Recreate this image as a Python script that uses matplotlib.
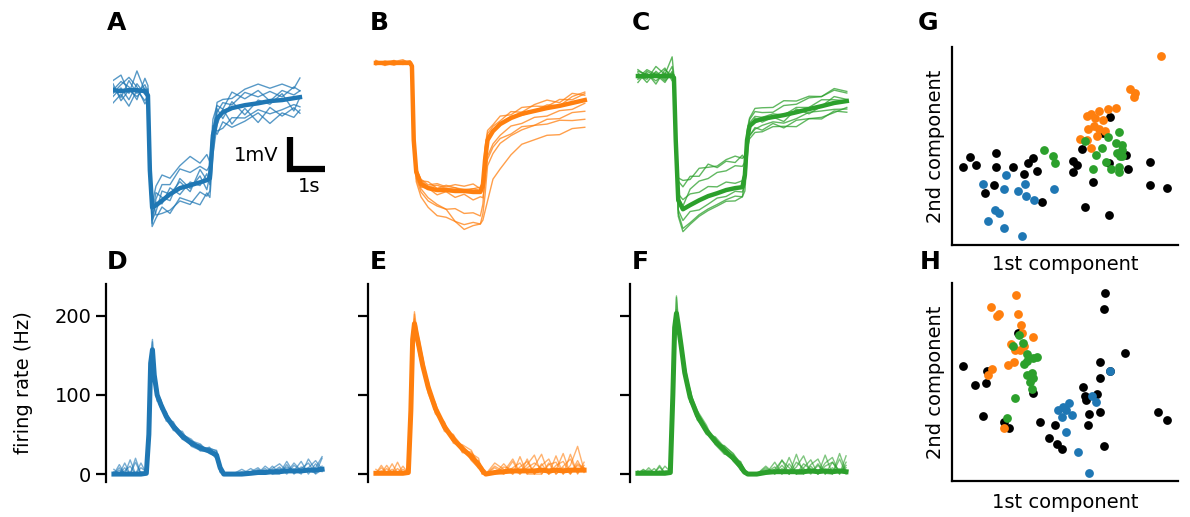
import numpy as np
import matplotlib
matplotlib.use('Agg')
import matplotlib.pyplot as plt

# Farben der drei Zellgruppen
c_blue, c_orange, c_green = '#1f77b4', '#ff7f0e', '#2ca02c'

# ---- membrane potential (mV relative to baseline), knot times in s ----
t_a = [0, 0.21, 0.42, 0.63, 0.84, 0.92, 0.97, 1.03, 1.13, 1.29, 1.5, 1.76, 2.03,
       2.29, 2.47, 2.55, 2.63, 2.74, 2.89, 3.13, 3.47, 3.82, 4.13, 4.45, 4.76, 4.92]
v_a_mean = [0, -0.03, 0, 0, -0.03, -0.16, -2.5, -3.66, -3.6, -3.45, -3.25, -3.06, -2.97,
            -2.88, -2.81, -2.75, -1.41, -0.88, -0.69, -0.56, -0.47, -0.41, -0.34, -0.31, -0.25, -0.22]
v_a_res = [
    [0.1, -0.2, 0.3, -0.1, 0.2, 0.1, -0.3, -0.5, 0.2, 0.5, 0.3, 0.6, 0.4, 0.5, 0.3, 0.4, -0.4, 0.2, 0.3, 0.1, 0.4, 0.2, 0.3, 0.1, 0.35, 0.2],
    [-0.2, 0.1, -0.3, 0.2, -0.1, -0.1, 0.3, 0.4, -0.3, -0.4, -0.5, -0.4, -0.6, -0.3, -0.5, -0.4, 0.3, -0.4, -0.5, -0.3, -0.4, -0.2, -0.4, -0.3, -0.2, -0.3],
    [0.3, 0.5, -0.1, 0.6, 0.0, 0.2, -0.2, -0.6, -0.4, -0.2, -0.6, -0.3, -0.5, -0.7, -0.4, -0.6, -0.6, -0.2, 0.1, -0.5, -0.1, -0.6, -0.2, -0.5, -0.3, -0.5],
    [-0.4, -0.1, -0.5, 0.0, -0.3, 0.0, 0.2, 0.1, 0.6, 0.8, 0.5, 0.7, 0.9, 0.6, 0.8, 0.5, 0.5, 0.4, 0.1, 0.5, 0.2, 0.4, 0.0, 0.3, 0.1, 0.2],
    [0.0, 0.3, 0.1, -0.3, 0.4, 0.3, -0.4, -0.3, 0.1, -0.1, 0.2, -0.2, 0.1, -0.1, 0.2, -0.2, -0.2, 0.3, -0.2, 0.2, -0.3, 0.1, -0.1, 0.2, -0.4, 0.0],
    [0.2, -0.3, 0.0, -0.2, 0.1, -0.2, 0.1, -0.2, 0.4, 0.1, -0.2, 0.3, -0.1, 0.2, -0.3, 0.1, 0.2, -0.5, -0.3, -0.6, -0.5, -0.3, -0.7, -0.4, -0.6, -0.4],
    [-0.1, 0.2, 0.4, 0.1, -0.4, -0.1, 0.4, -0.4, -0.2, 0.3, 0.0, 0.2, -0.2, 0.4, 0.0, 0.2, 0.1, 0.5, 0.4, 0.3, 0.5, 0.6, 0.4, 0.5, 0.3, 0.6],
]

t_v = [0.0, 0.25, 0.5, 0.75, 0.95, 1.0, 1.05, 1.12, 1.25, 1.45, 1.7, 1.95, 2.2, 2.45,
       2.7, 2.9, 2.97, 3.03, 3.1, 3.25, 3.45, 3.75, 4.05, 4.4, 4.75, 5.1, 5.45, 5.8]
v_b_mean = [0, 0, 0, 0, 0, -0.1, -2.41, -3.41, -3.78, -3.91, -3.97, -3.97, -4.0, -4.0,
            -4.03, -4.03, -3.81, -3.03, -2.41, -2.13, -1.91, -1.72, -1.59, -1.5, -1.41, -1.34, -1.25, -1.16]
v_b_res = [
    [0.05, -0.05, 0.08, -0.04, 0.03, 0.0, 0.2, -0.1, -0.15, -0.3, -0.45, -0.6, -0.95, -1.2, -1.05, -1.0, -1.1, -1.6, -1.9, -1.5, -1.4, -1.15, -0.95, -0.9, -0.85, -0.9, -0.8, -0.85],
    [-0.05, 0.06, -0.03, 0.05, -0.06, 0.05, -0.3, 0.1, 0.15, 0.1, 0.2, 0.1, 0.2, 0.15, 0.25, 0.1, 0.0, 0.3, 0.2, 0.15, 0.1, 0.2, 0.05, 0.2, 0.25, 0.1, 0.3, 0.15],
    [0.08, -0.06, 0.04, 0.1, -0.02, 0.0, 0.1, -0.2, -0.25, -0.4, -0.5, -0.6, -0.55, -0.7, -0.65, -0.75, -0.6, -0.5, -0.6, -0.5, -0.45, -0.5, -0.4, -0.45, -0.35, -0.4, -0.3, -0.35],
    [-0.03, 0.04, 0.07, -0.05, 0.04, -0.02, 0.2, 0.15, 0.1, 0.2, 0.05, 0.15, 0.1, 0.0, 0.1, 0.05, 0.2, 0.4, 0.3, 0.2, 0.25, 0.1, 0.2, 0.15, 0.05, 0.2, 0.1, 0.2],
    [0.02, -0.08, 0.0, 0.06, 0.05, 0.03, 0.0, -0.05, -0.1, 0.0, -0.15, -0.05, -0.2, -0.1, -0.25, -0.15, -0.4, -0.7, -0.5, -0.4, -0.35, -0.25, -0.3, -0.2, -0.25, -0.15, -0.2, -0.1],
    [-0.06, 0.03, -0.05, 0.0, 0.07, 0.0, 0.3, -0.3, -0.4, -0.6, -0.8, -0.85, -0.95, -1.05, -0.95, -1.0, -0.9, -1.1, -0.8, -0.7, -0.6, -0.55, -0.5, -0.45, -0.5, -0.45, -0.55, -0.6],
    [0.04, 0.0, -0.07, 0.03, -0.04, -0.05, -0.1, 0.05, 0.1, 0.05, 0.15, 0.05, 0.1, 0.05, 0.1, 0.15, 0.1, 0.2, 0.1, 0.05, 0.0, 0.05, -0.05, 0.0, 0.1, 0.0, 0.2, 0.25],
]

v_c_mean = [0, 0, 0, 0, 0, -0.05, -2.0, -3.88, -4.16, -4.03, -3.88, -3.75, -3.66, -3.56,
            -3.5, -3.47, -3.09, -2.0, -1.56, -1.41, -1.34, -1.28, -1.22, -1.13, -1.03, -0.94, -0.84, -0.78]
v_c_res = [
    [0.1, -0.2, 0.15, -0.1, 0.3, 0.0, -0.3, 0.7, 0.9, 0.8, 1.0, 0.9, 0.85, 0.95, 1.0, 0.9, 0.6, -0.2, -0.1, 0.1, -0.1, 0.0, -0.2, 0.1, -0.15, 0.0, 0.2, 0.05],
    [-0.1, 0.1, -0.25, 0.2, 0.0, 0.1, 0.2, 0.6, 0.7, 0.9, 0.75, 1.0, 0.8, 0.9, 0.8, 1.0, 0.5, 0.1, -0.3, -0.2, -0.35, -0.2, -0.4, -0.25, -0.3, -0.4, -0.25, -0.35],
    [0.2, 0.0, 0.1, -0.15, 0.1, 0.0, 0.1, -0.4, -0.6, -0.55, -0.45, -0.4, -0.35, -0.3, -0.25, -0.3, -0.2, -0.3, -0.4, -0.35, -0.4, -0.3, -0.35, -0.45, -0.3, -0.35, -0.3, -0.2],
    [-0.2, 0.15, 0.0, 0.25, -0.15, -0.05, 0.0, 0.2, 0.3, 0.35, 0.25, 0.3, 0.2, 0.25, 0.15, 0.2, 0.1, 0.3, 0.25, 0.4, 0.35, 0.3, 0.45, 0.35, 0.4, 0.3, 0.45, 0.3],
    [0.0, -0.1, 0.3, 0.05, 0.6, 0.05, -0.2, -0.3, -0.35, -0.2, -0.3, -0.25, -0.15, -0.2, -0.1, -0.15, -0.3, 0.2, 0.1, 0.15, 0.05, 0.1, 0.0, 0.15, 0.05, 0.2, 0.1, 0.0],
    [0.15, 0.05, -0.15, 0.1, -0.05, 0.0, 0.4, -0.5, -0.7, -0.6, -0.5, -0.45, -0.4, -0.35, -0.4, -0.3, -0.5, -0.6, -0.3, -0.25, -0.2, -0.15, -0.25, -0.2, -0.1, -0.15, -0.2, -0.25],
    [-0.05, 0.2, 0.05, -0.2, 0.15, -0.05, -0.1, 0.1, 0.1, 0.5, 0.6, 0.55, 0.65, 0.6, 0.7, 0.65, 0.4, 0.0, 0.2, 0.3, 0.2, 0.15, 0.3, 0.25, 0.35, 0.3, 0.4, 0.25],
]

# ---- firing rates (Hz) ----
t_r = [0.0, 0.15, 0.3, 0.45, 0.6, 0.75, 0.9, 0.97, 1.02, 1.07, 1.12, 1.2, 1.3, 1.45, 1.65, 1.9, 2.15, 2.4,
       2.65, 2.85, 2.95, 3.05, 3.3, 3.55, 3.8, 4.0, 4.2, 4.4, 4.6, 4.8, 5.0, 5.2, 5.4, 5.6, 5.78]
r_d_mean = [0, 0, 0, 0, 0, 0, 1, 50, 140, 157, 125, 100, 88, 73, 60, 48, 39, 33,
            29, 24, 8, 0, 0, 0, 1, 2, 2, 3, 3, 4, 4, 4, 5, 5, 6]
r_d_res = [
    [0, 12, 0, 18, 0, 3, 0, -10, -15, 10, 5, -5, 5, -3, 6, -4, 3, 5, -2, 4, 3, 0, 0, 0, 6, -1, 8, 0, 4, -2, 10, 0, 3, 12, 0],
    [3, 0, 8, 0, 15, 0, 1, 10, -5, -8, 8, 10, -6, 4, -5, 6, -4, -3, 5, -3, -4, 0, 0, 3, 0, 4, -1, 7, -2, 12, -3, 5, 0, -4, 14],
    [0, 5, 0, 0, 20, 0, -1, -20, 10, 13, -10, -8, 3, -6, 3, 2, 5, -2, 4, 5, -5, 0, 0, 0, 0, -2, 0, 4, 10, 0, 2, -4, 14, 0, 4],
    [6, 0, 14, 0, 0, 8, 2, 5, 0, -5, 0, 4, -3, 6, -2, -4, -2, 4, -3, -2, 4, 0, 0, 6, -1, 0, 5, -3, 0, 5, 0, 12, -5, 8, -3],
    [0, 0, 4, 10, 0, 0, 0, -5, 5, 0, 12, 2, 6, 0, 4, 3, -3, 0, 3, 6, 2, 0, 0, 0, 2, 6, -2, 0, 6, -4, 7, 0, 0, 3, 16],
    [0, 8, 0, 0, 0, 14, 0, 15, -10, -6, -5, -3, -4, 5, -3, -2, 2, -4, 0, -5, -6, 0, 0, 0, 0, 0, 3, -3, -3, 8, -4, 3, 9, -5, 0],
]
r_e_mean = [1, 1, 1, 1, 1, 1, 2, 80, 170, 190, 178, 160, 137, 110, 83, 60, 44, 32,
            22, 12, 5, 0, 2, 3, 4, 4, 4, 4, 5, 4, 5, 4, 5, 5, 5]
r_e_res = [
    [0, 10, 0, 0, 14, 0, -2, -20, -10, 15, 8, -8, 6, -5, 4, -6, 5, 3, -4, 5, -5, 0, 6, -3, 12, -4, 15, -4, 8, -4, 18, -4, 6, 30, 0],
    [0, 0, 6, 0, 0, 9, -1, 15, 10, -10, -8, 6, -6, 8, -5, 3, -3, 5, 8, -3, 4, 0, -2, 10, -4, 18, -4, 6, 20, -4, 0, 22, -5, 8, 3],
    [5, 0, 0, 12, 0, 0, 0, -10, -20, -5, 5, 10, 8, -4, 7, -4, 6, -5, 4, 8, -4, 0, 8, 0, 15, -2, 8, 20, -5, 10, -5, 6, 14, -4, 6],
    [0, 3, 0, 0, 6, 0, 1, 5, 8, 12, -10, -6, -4, 6, -7, 5, -2, 4, -3, -5, 3, 0, 0, -3, 4, 10, -4, -4, 6, 15, -5, 4, -5, 12, -3],
    [0, 0, 10, 0, 0, 5, 0, -5, 5, -8, 12, 4, 10, 2, 5, -3, 4, -4, 6, 2, -5, 0, 12, 3, -4, 5, 12, -4, -5, 8, 10, -4, 20, -5, 10],
    [0, 7, 0, 5, 0, 0, 3, 20, -8, 6, -6, -10, -3, -8, -4, 6, -5, 3, -5, -4, 2, 0, -2, 6, 2, -4, 4, 10, 2, -4, 6, 12, -4, 6, 2],
]
r_f_mean = [1, 1, 1, 1, 1, 1, 2, 100, 185, 203, 188, 162, 128, 97, 74, 55, 41, 30,
            20, 10, 3, 0, 0, 2, 3, 3, 3, 3, 3, 4, 3, 4, 3, 4, 3]
r_f_res = [
    [0, 5, 0, 0, 8, 0, 0, -20, -15, 20, 10, -6, 5, -6, 5, -4, 6, 4, -3, 6, 2, 0, 0, 8, -3, 15, -3, 6, 20, -3, 10, -4, 12, -3, 8],
    [0, 0, 4, 0, 0, 9, 1, 15, 10, -10, -8, 8, -5, 8, -6, 3, -3, 6, 5, -4, -3, 0, 0, -2, 12, -3, 18, -3, 5, 14, -3, 20, -3, 22, 0],
    [3, 0, 0, 6, 0, 0, -1, -10, -20, 22, -5, 10, 10, 5, 6, 7, -4, -5, 4, 5, 4, 0, 0, 4, -2, 8, -3, 22, -3, 6, -3, 10, 18, -4, 12],
    [0, 4, 0, 0, 3, 0, 0, 10, 5, -5, 8, -5, -6, -4, -5, -5, 4, 3, -4, -3, -2, 0, 0, 0, 6, -3, 10, -3, -3, 8, 16, -4, 5, -4, 20],
    [0, 0, 7, 0, 0, 3, 2, -5, 8, 5, -10, 3, 8, -6, 3, 2, -3, 5, 6, 3, 3, 0, 0, 6, -3, 4, -3, 12, 4, -4, 8, -3, -3, 15, -3],
    [2, 0, 0, 0, 10, 0, 0, 5, -10, -8, 6, -8, -3, 10, -4, -3, 5, -4, -2, -5, -1, 0, 0, 0, 3, 14, 5, -3, 10, 2, -3, 6, 12, 0, 5],
]

# ---- PCA scatter (arbitrary units) ----
g_black_x = [4.7, 7.8, 10.7, 19.6, 19.6, 26.9, 31.9, 33.7, 35.7, 37.5, 18.4, 14.7, 39.7, 53.4, 55.1, 53.4,
             57.4, 62.2, 59.0, 69.4, 70.1, 66.6, 69.6, 76.9, 77.8, 87.8, 87.8, 95.1]
g_black_y = [39.5, 44.2, 40.3, 46.7, 39.2, 39.2, 35.8, 41.5, 44.0, 37.5, 30.3, 26.1, 21.8, 42.5, 40.3, 36.8,
             48.7, 31.6, 19.0, 15.1, 64.7, 56.6, 41.5, 45.4, 38.5, 41.8, 30.4, 28.7]
g_blue_x = [24.0, 13.5, 22.8, 32.2, 29.3, 32.8, 36.3, 45.0, 19.1, 20.7, 16.0, 22.8, 30.9]
g_blue_y = [35.6, 30.9, 28.1, 30.8, 27.4, 24.7, 22.5, 28.1, 17.6, 16.3, 12.1, 8.4, 4.5]
g_orange_x = [92.4, 78.8, 81.0, 80.6, 72.4, 69.1, 65.0, 61.6, 59.9, 63.1, 66.6, 60.0, 62.9, 65.0, 67.5,
              64.3, 56.6, 59.9, 61.5]
g_orange_y = [95.3, 78.7, 76.8, 75.0, 69.4, 68.7, 67.7, 66.2, 64.9, 64.0, 63.0, 58.7, 60.0, 58.7, 57.6,
              55.3, 53.4, 52.9, 49.1]
g_green_x = [40.9, 44.6, 45.4, 58.8, 62.5, 63.8, 66.5, 69.0, 68.1, 74.0, 72.5, 75.1, 75.4, 72.8, 74.3,
             75.4, 70.4, 73.8, 74.0]
g_green_y = [48.2, 44.9, 41.2, 52.6, 38.2, 45.5, 48.9, 54.3, 41.7, 57.3, 51.3, 50.3, 47.9, 46.6, 44.9,
             44.9, 38.2, 39.5, 37.0]

h_black_x = [67.6, 67.4, 76.6, 65.6, 70.1, 65.4, 57.8, 58.8, 64.0, 59.1, 65.3, 60.4, 60.1, 39.0, 45.7,
             43.0, 46.5, 48.5, 67.4, 91.3, 95.0, 4.7, 10.1, 14.9, 15.4, 13.7, 22.9, 25.1, 35.7, 29.0]
h_black_y = [94.9, 87.0, 64.4, 60.1, 55.6, 52.0, 47.6, 43.1, 44.1, 40.9, 34.6, 33.8, 28.2, 29.6, 28.4,
             21.5, 18.8, 16.4, 17.7, 35.1, 30.6, 58.1, 48.3, 49.3, 55.7, 32.6, 29.9, 26.7, 44.3, 74.7]
h_blue_x = [70.1, 62.1, 63.5, 47.1, 49.3, 51.9, 50.4, 48.5, 53.2, 50.4, 55.6, 60.4]
h_blue_y = [55.7, 42.9, 39.7, 35.8, 37.5, 39.2, 35.8, 32.1, 33.4, 25.0, 14.4, 4.2]
h_orange_x = [28.2, 17.4, 19.9, 21.0, 29.3, 30.6, 31.0, 35.7, 26.2, 27.9, 30.1, 31.9, 27.5, 24.7, 17.8,
              15.9, 22.8]
h_orange_y = [94.1, 87.7, 83.1, 84.5, 84.3, 78.7, 75.0, 72.8, 69.3, 66.2, 66.2, 68.2, 60.3, 58.4, 56.8,
              53.7, 27.0]
h_green_x = [29.6, 27.2, 31.3, 33.4, 35.7, 37.5, 31.9, 35.4, 33.4, 36.0, 34.3, 35.4, 27.9, 24.3, 33.1]
h_green_y = [73.6, 68.2, 69.9, 63.9, 62.2, 62.5, 59.1, 54.7, 53.7, 52.0, 50.0, 46.3, 42.1, 31.6, 60.5]

W, H = 1190, 517


def rect(l, t, r, b):
    return [l / W, 1 - b / H, (r - l) / W, (b - t) / H]


def draw_traces(ax, t, mean, res, color, lw_thin=1.0, lw_mean=3.2, alpha=0.75):
    mean = np.array(mean)
    for d in res:
        ax.plot(t, mean + np.array(d), color=color, lw=lw_thin, alpha=alpha)
    ax.plot(t, mean, color=color, lw=lw_mean)


fig = plt.figure(figsize=(W / 100, H / 100), dpi=100)

# Spannungsspuren A-C
axA = fig.add_axes(rect(113, 45, 325, 240))
axB = fig.add_axes(rect(368, 45, 592, 240))
axC = fig.add_axes(rect(630, 45, 854, 240))
draw_traces(axA, t_a, v_a_mean, v_a_res, c_blue)
draw_traces(axB, t_v, v_b_mean, v_b_res, c_orange)
draw_traces(axC, t_v, v_c_mean, v_c_res, c_green)
axA.set_xlim(0, 5.58)
axA.set_ylim(1.41 - 6.09, 1.41)
axB.set_xlim(-0.22, 6.0)
axB.set_ylim(0.56 - 6.09, 0.56)
axC.set_xlim(-0.22, 6.0)
axC.set_ylim(0.97 - 6.09, 0.97)
for ax in (axA, axB, axC):
    ax.axis('off')

# Skalenbalken
axA.plot([4.66, 4.66, 5.58], [-1.47, -2.47, -2.47], color='k', lw=4.5,
         solid_joinstyle='miter', solid_capstyle='butt', clip_on=False)
axA.text(4.36, -2.03, '1mV', ha='right', va='center', fontsize=14)
axA.text(5.16, -2.72, '1s', ha='center', va='top', fontsize=14)

# Feuerraten D-F
axD = fig.add_axes(rect(106, 284, 330, 482))
axE = fig.add_axes(rect(368, 284, 592, 482))
axF = fig.add_axes(rect(630, 284, 854, 482))
draw_traces(axD, t_r, r_d_mean, r_d_res, c_blue, lw_mean=3.6, alpha=0.6)
draw_traces(axE, t_r, r_e_mean, r_e_res, c_orange, lw_mean=3.6, alpha=0.6)
draw_traces(axF, t_r, r_f_mean, r_f_res, c_green, lw_mean=3.6, alpha=0.6)
for ax in (axD, axE, axF):
    ax.set_xlim(-0.22, 6.0)
    ax.set_ylim(-10, 240)
    ax.set_yticks([0, 100, 200])
    ax.set_xticks([])
    for s in ('top', 'right', 'bottom'):
        ax.spines[s].set_visible(False)
    ax.spines['left'].set_linewidth(1.6)
    ax.tick_params(axis='y', length=7, width=1.6, labelsize=14)
axE.set_yticklabels([])
axF.set_yticklabels([])
axD.set_ylabel('firing rate (Hz)', fontsize=14)
axD.yaxis.set_label_coords(-0.326, 0.5)

# PCA G, H
axG = fig.add_axes(rect(952, 47, 1178, 245))
axH = fig.add_axes(rect(952, 283, 1178, 481))
for ax, bx, by, ux, uy, ox, oy, gx, gy in (
        (axG, g_black_x, g_black_y, g_blue_x, g_blue_y, g_orange_x, g_orange_y, g_green_x, g_green_y),
        (axH, h_black_x, h_black_y, h_blue_x, h_blue_y, h_orange_x, h_orange_y, h_green_x, h_green_y)):
    ax.scatter(bx, by, s=40, color='k', linewidths=0)
    ax.scatter(ux, uy, s=40, color=c_blue, linewidths=0)
    ax.scatter(ox, oy, s=40, color=c_orange, linewidths=0)
    ax.scatter(gx, gy, s=40, color=c_green, linewidths=0)
    ax.set_xlim(0, 100)
    ax.set_ylim(0, 100)
    ax.set_xticks([])
    ax.set_yticks([])
    ax.spines['top'].set_visible(False)
    ax.spines['right'].set_visible(False)
    ax.spines['left'].set_linewidth(1.6)
    ax.spines['bottom'].set_linewidth(1.6)
    ax.set_xlabel('1st component', fontsize=14)
    ax.set_ylabel('2nd component', fontsize=14)
    ax.yaxis.set_label_coords(-0.03, 0.5)
axG.xaxis.set_label_coords(0.5, -0.05)
axH.xaxis.set_label_coords(0.5, -0.06)

# Panelbuchstaben
for lab, x, y in (('A', 107, 11), ('B', 370, 11), ('C', 632, 11), ('G', 918, 11),
                  ('D', 107, 250), ('E', 370, 250), ('F', 632, 250), ('H', 920, 250)):
    fig.text(x / W, 1 - y / H, lab, fontsize=18, fontweight='bold', ha='left', va='top')

fig.savefig('out.png', dpi=100)
